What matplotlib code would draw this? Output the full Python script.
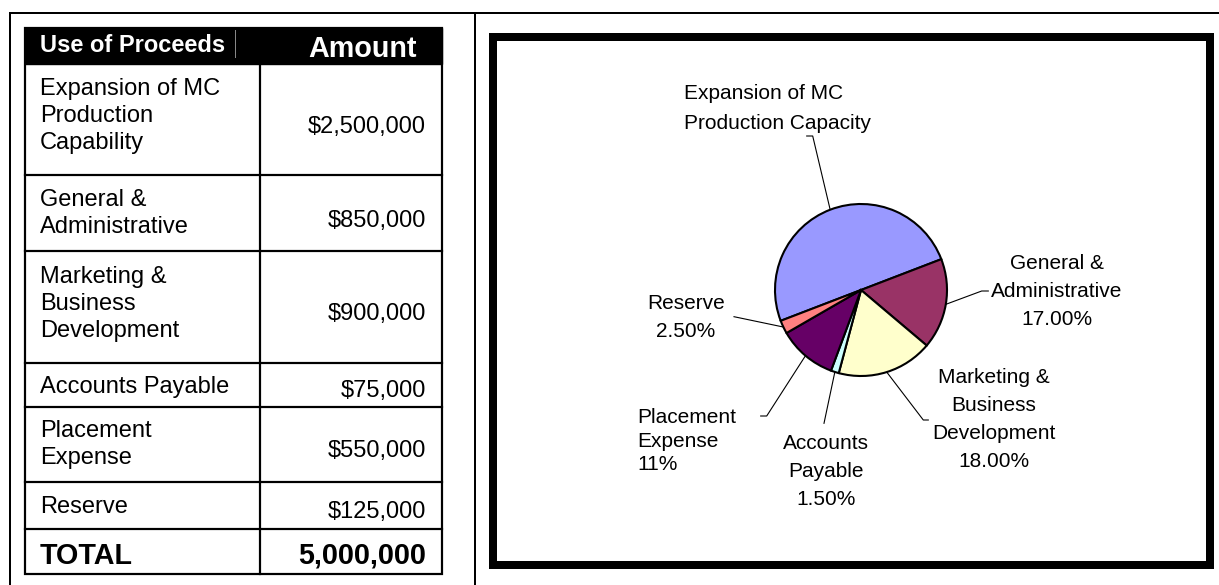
import numpy as np
import matplotlib.pyplot as plt
from matplotlib.patches import Rectangle

plt.rcParams["font.family"] = ["Liberation Sans", "DejaVu Sans"]

W, H = 1219, 585
PX = 0.72  # points per pixel at dpi 100

# table data
uses = [
    "Expansion of MC\nProduction\nCapability",
    "General &\nAdministrative",
    "Marketing &\nBusiness\nDevelopment",
    "Accounts Payable",
    "Placement\nExpense",
    "Reserve",
]
amounts = [2500000, 850000, 900000, 75000, 550000, 125000]

# pie chart data (same order as the table)
pie_labels = [
    "Expansion of MC\nProduction Capacity",
    "General &\nAdministrative\n17.00%",
    "Marketing &\nBusiness\nDevelopment\n18.00%",
    "Accounts\nPayable\n1.50%",
    "Placement\nExpense\n11%",
    "Reserve\n2.50%",
]
colors = ["#9999ff", "#993366", "#ffffcc", "#ccffff", "#660066", "#ff8080"]

fig = plt.figure(figsize=(W / 100, H / 100), dpi=100)
ax = fig.add_axes([0, 0, 1, 1])
ax.set_xlim(0, W)
ax.set_ylim(H, 0)
ax.axis("off")

# page rules
ax.plot([10, W], [13, 13], color="black", lw=2 * PX)
ax.plot([10, 10], [13, H], color="black", lw=2 * PX)
ax.plot([475, 475], [13, H], color="black", lw=2 * PX)

# ---- table ----
tx0, tx1, tcol = 25, 442, 260
row_edges = [64, 175, 251, 363, 407, 482, 529, 574]
label_top = [77.9, 188.9, 265.6, 376.2, 420.2, 495.6]
value_base = [132.7, 226.7, 320, 397.3, 456.7, 518.3]

ax.add_patch(Rectangle((tx0, 28), tx1 - tx0, row_edges[0] - 28, color="black"))
ax.add_patch(Rectangle((tx0, 28), tx1 - tx0, row_edges[-1] - 28, fill=False,
                       ec="black", lw=2.2 * PX))
for y in row_edges[1:-1]:
    ax.plot([tx0, tx1], [y, y], color="black", lw=2.2 * PX)
ax.plot([tcol, tcol], [row_edges[0], row_edges[-1]], color="black", lw=2.2 * PX)
ax.plot([235, 235], [30, 57], color="#888888", lw=1 * PX)

ax.text(40, 51.7, "Use of Proceeds", color="white", fontsize=17,
        fontweight="bold", va="baseline")
ax.text(362.5, 57.3, "Amount", color="white", fontsize=20.7,
        fontweight="bold", ha="center", va="baseline")

for name, amt, yt, yb in zip(uses, amounts, label_top, value_base):
    ax.text(40, yt, name, fontsize=17, va="top", linespacing=1.30)
    ax.text(426, yb, f"${amt:,}", fontsize=17, ha="right", va="baseline")

ax.text(40, 564, "TOTAL", fontsize=20.7, fontweight="bold", va="baseline")
ax.text(426, 564, f"{sum(amounts):,}", fontsize=20.7, fontweight="bold",
        ha="right", va="baseline")

# ---- chart ----
ax.add_patch(Rectangle((493, 37), 717, 528, fill=False, ec="black",
                       lw=8 * PX, joinstyle="miter"))

cx, cy, r = 861, 290, 86
half = 100
pax = fig.add_axes([(cx - half) / W, (H - cy - half) / H, 2 * half / W, 2 * half / H])
wedges, _ = pax.pie(amounts, colors=colors, startangle=201, counterclock=False,
                    radius=1, wedgeprops=dict(edgecolor="black", linewidth=1.5))
pax.set_xlim(-half / r, half / r)
pax.set_ylim(-half / r, half / r)
pax.axis("off")

label_pos = [
    (684, 84.4, "left", 1.72),
    (1057, 254.4, "center", 1.586),
    (993.5, 368.4, "center", 1.586),
    (826, 434.4, "center", 1.586),
    (637.3, 407.8, "left", 1.32),
    (686, 294.4, "center", 1.586),
]
leader_start = [
    [(806.7, 136), (812.7, 136)],
    [(988.3, 291), (981.7, 291)],
    [(928.3, 420), (923.3, 420)],
    [(824, 423.3)],
    [(760.7, 416), (766.7, 416)],
    [(734, 316.7)],
]

to_ax = ax.transData.inverted()
for w, text, (x, y, ha, ls), pts in zip(wedges, pie_labels, label_pos, leader_start):
    theta = np.deg2rad((w.theta1 + w.theta2) / 2)
    edge = to_ax.transform(pax.transData.transform((w.r * np.cos(theta), w.r * np.sin(theta))))
    xs = [p[0] for p in pts] + [edge[0]]
    ys = [p[1] for p in pts] + [edge[1]]
    ax.plot(xs, ys, color="black", lw=0.8)
    ax.text(x, y, text, fontsize=15, ha=ha, va="top", linespacing=ls)

fig.savefig("out.png", dpi=100)
